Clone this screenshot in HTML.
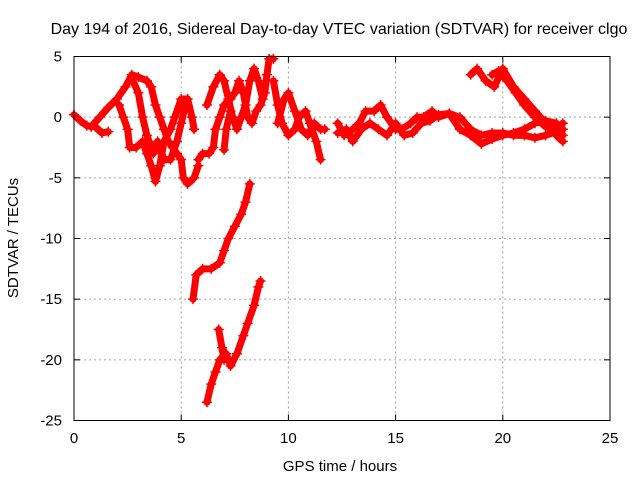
<!DOCTYPE html>
<html><head><meta charset="utf-8"><style>
body{margin:0;background:#fff}
svg text{font-family:"Liberation Sans",sans-serif;font-size:14px;fill:#000}
</style></head><body>
<svg id="chart" width="640" height="480" viewBox="0 0 640 480" xmlns="http://www.w3.org/2000/svg">
<rect width="640" height="480" fill="#fff"/>
<text x="339" y="34" text-anchor="middle" style="font-size:16px">Day 194 of 2016, Sidereal Day-to-day VTEC variation (SDTVAR) for receiver clgo</text>
<g id="grid"></g>
<g id="ticks"></g>
<g id="series"></g>
<rect x="74" y="56.5" width="536" height="364" fill="none" stroke="#000" stroke-width="1"/>
<text x="340" y="471" text-anchor="middle" style="font-size:15px">GPS time / hours</text>
<text transform="translate(18,238) rotate(-90)" text-anchor="middle" style="font-size:15px">SDTVAR / TECUs</text>
</svg>
<script>
const xTicks=[0,5,10,15,20,25];
const yTicks=[5,0,-5,-10,-15,-20,-25];
const traceA=[[0,0.2],[0.3,-0.3],[0.6,-0.7],[1,-0.8],[1.3,-1.3],[1.6,-1.2]];
const traceB=[[0.8,-0.8],[1.2,0],[1.6,0.8],[2,1.5],[2.4,2.5],[2.7,3.5],[3,3.3],[3.4,3],[3.6,2.5],[3.8,1],[4,0],[4.2,-1],[4.4,-2],[4.6,-2.5],[4.8,-3],[5,-3.5],[5.1,-5],[5.3,-5.5],[5.6,-5],[5.8,-4]];
const traceC=[[2.1,1],[2.3,0],[2.5,-1],[2.6,-2.5],[2.9,-2.5],[3.2,-2],[3.4,-3],[3.6,-4],[3.8,-5.3],[4,-4],[4.2,-2],[4.5,-1],[4.7,0],[5,1.5],[5.3,1.5],[5.5,0],[5.6,-1]];
const traceD=[[2.7,3.2],[3,2],[3.2,0],[3.4,-1.5],[3.7,-3],[3.9,-2],[4.2,-3.5],[4.5,-3.5],[4.8,-2],[5,-0.5],[5.2,1]];
const traceE=[[5.8,-3.5],[6,-3],[6.3,-3],[6.5,-2.5],[6.6,-1],[6.8,0],[7,1],[7.3,1.5],[7.5,2],[7.7,3],[7.9,2],[8.1,0],[8.3,-0.5],[8.5,0.5],[8.7,1],[8.9,2],[9,3.5],[9.1,4.8],[9.3,4.8]];
const traceF=[[6.2,1],[6.5,2.5],[6.8,3.5],[7,3],[7.2,1.5],[7.4,0],[7.6,-1],[7.8,0],[8,1],[8.2,3],[8.4,4],[8.6,3],[8.8,1.5]];
const traceG=[[7,-2.7],[7.1,-1],[7.3,0.5]];
const traceH=[[5.55,-15],[5.7,-13],[6,-12.5],[6.4,-12.5],[6.8,-12],[7,-11],[7.2,-10],[7.5,-9],[7.8,-8],[8,-7],[8.2,-5.5]];
const traceI=[[6.2,-23.5],[6.4,-22],[6.6,-21],[6.8,-20],[7.1,-19.5],[7.3,-20.5],[7.6,-19.5],[7.9,-18],[8.1,-17],[8.4,-15.5],[8.6,-14],[8.7,-13.5]];
const traceJ=[[6.75,-17.5],[6.9,-19],[7,-20]];
const traceK=[[9.3,3],[9.5,1],[9.7,-0.5],[10,-1.5],[10.3,-1],[10.5,0],[10.8,0.5],[11,-0.5],[11.3,-2],[11.5,-3.5]];
const traceL=[[9.5,-0.5],[9.8,1.5],[10,2],[10.3,0.5],[10.6,-1],[10.9,-1.5],[11.2,-0.5],[11.5,-1],[11.7,-1]];
const traceM=[[12.3,-0.5],[12.6,-1.5],[13,-1],[13.3,-0.5],[13.6,0.5],[14,0.5],[14.3,1],[14.6,0],[15,-1],[15.3,-1],[15.7,-0.5],[16,0],[16.3,0],[16.7,0.5],[17,0],[17.5,0.3]];
const traceN=[[12.3,-1.3],[12.7,-1],[13,-2],[13.4,-1],[13.8,-0.5],[14.2,-1],[14.6,-1.5],[15,-0.5],[15.4,-1.5],[15.8,-1.3],[16.2,-0.5],[16.6,-0.3],[17,0.2],[17.5,0.3],[18,0],[18.5,-1],[19,-1.5],[19.5,-1.3],[20,-1.3],[20.5,-1.5],[21,-1.5],[21.5,-1.7],[22,-1.5],[22.5,-1.2],[22.8,-1]];
const traceO=[[17.5,0.3],[18,-1],[18.5,-1.5],[19,-2.2],[19.5,-1.8],[20,-1.5],[20.5,-1.3],[21,-1],[21.5,-0.5],[22,-0.3],[22.5,-0.5],[22.8,-1.5]];
const traceP=[[18.5,3.5],[18.8,4],[19.2,3],[19.6,2.5],[20,4],[20.5,2.5],[21,1.5],[21.5,0.5],[22,-0.5],[22.5,-1.5],[22.8,-2]];
const traceQ=[[19.5,3.5],[19.8,3.8],[20.2,3],[20.6,2],[21,1],[21.5,0],[22,-0.8],[22.5,-1],[22.8,-0.5]];
const traces=[traceA,traceB,traceC,traceD,traceE,traceF,traceG,traceH,traceI,traceJ,traceK,traceL,traceM,traceN,traceO,traceP,traceQ];

const NS='http://www.w3.org/2000/svg';
const X0=74,X1=610,Y0=420.5,Y1=56.5;
const xs=v=>X0+(v-0)/25*(X1-X0);
const ys=v=>Y0-(v+25)/30*(Y0-Y1);
function mk(t,a,p){const e=document.createElementNS(NS,t);for(const k in a)e.setAttribute(k,a[k]);p.appendChild(e);return e;}
const grid=document.getElementById('grid'),ticks=document.getElementById('ticks'),ser=document.getElementById('series');
xTicks.forEach(v=>{
  const x=xs(v);
  if(v>0&&v<25){const g=mk('line',{x1:x,y1:Y1,x2:x,y2:Y0,stroke:'#a0a0a0','stroke-dasharray':'2,3'},grid);
  
  }
  mk('line',{x1:x,y1:Y0,x2:x,y2:Y0-6,stroke:'#000'},ticks);
  mk('line',{x1:x,y1:Y1,x2:x,y2:Y1+6,stroke:'#000'},ticks);
  const t=mk('text',{x:x,y:443,'text-anchor':'middle',style:'font-size:15px'},ticks);t.textContent=v;
  
  
});
yTicks.forEach(v=>{
  const y=ys(v);
  if(v<5&&v>-25){const g=mk('line',{x1:X0,y1:y,x2:X1,y2:y,stroke:'#a0a0a0','stroke-dasharray':'2,3'},grid);
  
  }
  mk('line',{x1:X0,y1:y,x2:X0+6,y2:y,stroke:'#000'},ticks);
  mk('line',{x1:X1,y1:y,x2:X1-6,y2:y,stroke:'#000'},ticks);
  const t=mk('text',{x:62,y:y+5,'text-anchor':'end',style:'font-size:15px'},ticks);t.textContent=v;
  
  
});
traces.forEach((tr,i)=>{
  const g=mk('g',{},ser);
  
  
  mk('polyline',{points:tr.map(p=>xs(p[0])+','+ys(p[1])).join(' '),fill:'none',stroke:'#ff0000','stroke-width':7,'stroke-linejoin':'round','stroke-linecap':'round'},g);
  tr.forEach(p=>{
    const x=xs(p[0]),y=ys(p[1]);
    const m=mk('path',{d:`M${x-5},${y}H${x+5}M${x},${y-5}V${y+5}`,stroke:'#ff0000','stroke-width':1.5},g);
    
    
  });
});
</script>
</body></html>
